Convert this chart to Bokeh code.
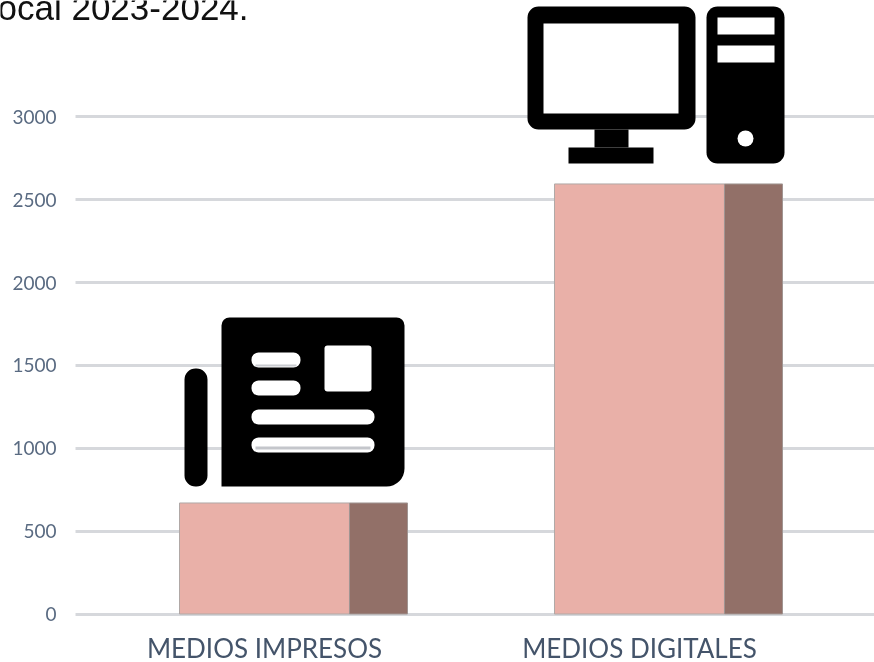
from bokeh.plotting import figure
from bokeh.embed import file_html
from bokeh.resources import INLINE
from bokeh.models import Range1d, FixedTicker, BoxAnnotation, Label

categories = ["MEDIOS IMPRESOS", "MEDIOS DIGITALES"]
front_values = [670, 2595]
side_values = [670, 2595]
y_ticks = [0, 500, 1000, 1500, 2000, 2500, 3000]
caption = "ocal 2023-2024."

positions = list(range(len(categories)))
FRONT_W, SIDE_W, SIDE_OFF = 0.4533, 0.1547, 0.304
X_START, X_AXIS, X_END = -0.704, -0.504, 1.6267

p = figure(width=874, height=662, output_backend="svg", toolbar_location=None,
           x_range=Range1d(X_START, X_END), y_range=Range1d(-292.6, 3702),
           min_border_left=0, min_border_right=0, min_border_top=0, min_border_bottom=0,
           outline_line_color=None, background_fill_color="white")
p.styles = {"position": "fixed", "left": "0", "top": "0"}

p.xgrid.visible = False
p.ygrid.ticker = FixedTicker(ticks=y_ticks)
p.ygrid.cross_bounds = (X_AXIS, X_END)
p.ygrid.grid_line_color = "#d6d8dc"
p.ygrid.grid_line_width = 3

p.yaxis.fixed_location = X_AXIS
p.yaxis.ticker = FixedTicker(ticks=y_ticks)
p.yaxis.axis_line_color = None
p.yaxis.major_tick_line_color = None
p.yaxis.minor_tick_line_color = None
p.yaxis.major_label_standoff = 13
p.yaxis.major_label_text_font = "Lato"
p.yaxis.major_label_text_font_size = "19px"
p.yaxis.major_label_text_color = "#5a6b82"

p.xaxis.fixed_location = 0
p.xaxis.ticker = FixedTicker(ticks=positions)
p.xaxis.major_label_overrides = {i: c for i, c in zip(positions, categories)}
p.xaxis.axis_line_color = None
p.xaxis.major_tick_line_color = None
p.xaxis.minor_tick_line_color = None
p.xaxis.major_label_standoff = 12
p.xaxis.major_label_text_font = "Lato"
p.xaxis.major_label_text_font_size = "26px"
p.xaxis.major_label_text_color = "#44546a"

p.vbar(x=positions, top=front_values, width=FRONT_W, bottom=0,
       fill_color="#e9b0a8", line_color="#b0a8a6", line_width=1)
p.vbar(x=[x + SIDE_OFF for x in positions], top=side_values, width=SIDE_W, bottom=0,
       fill_color="#927068", line_color="#a09592", line_width=1)


def box(l, t, r, b, color="black", radius=0):
    p.add_layout(BoxAnnotation(left=l, right=r, top=t, bottom=b,
                               left_units="canvas", right_units="canvas",
                               top_units="canvas", bottom_units="canvas",
                               fill_color=color, fill_alpha=1, line_color=None,
                               border_radius=radius))


# newspaper icon
box(184, 368, 207, 486, radius=11)
box(221, 317, 404, 486, radius=dict(top_left=8, top_right=8, bottom_right=18, bottom_left=0))
box(251, 352, 300, 367, "white", 7)
box(251, 380, 300, 395, "white", 7)
box(251, 409, 374, 424, "white", 7)
box(251, 437, 374, 452, "white", 7)
box(324, 345, 371, 391, "white", 3)
box(255, 364, 296, 366, "#c9cbd0")
box(255, 446, 370, 449, "#c4c6cb")

# computer icon
box(527, 6, 695, 129, radius=11)
box(543, 23, 678, 113, "white")
box(594, 129, 628, 147)
box(568, 147, 653, 163)
box(706, 6, 784, 163, radius=11)
box(717, 17, 774, 34, "white")
box(717, 45, 774, 62, "white")
box(737, 130, 753, 146, "white", 8)

p.add_layout(Label(x=-3, y=7, x_units="canvas", y_units="canvas", text=caption,
                   text_font="Liberation Sans", text_font_size="35px",
                   text_color="#111111", text_baseline="alphabetic"))

open("out.html", "w").write(file_html(p, INLINE))
